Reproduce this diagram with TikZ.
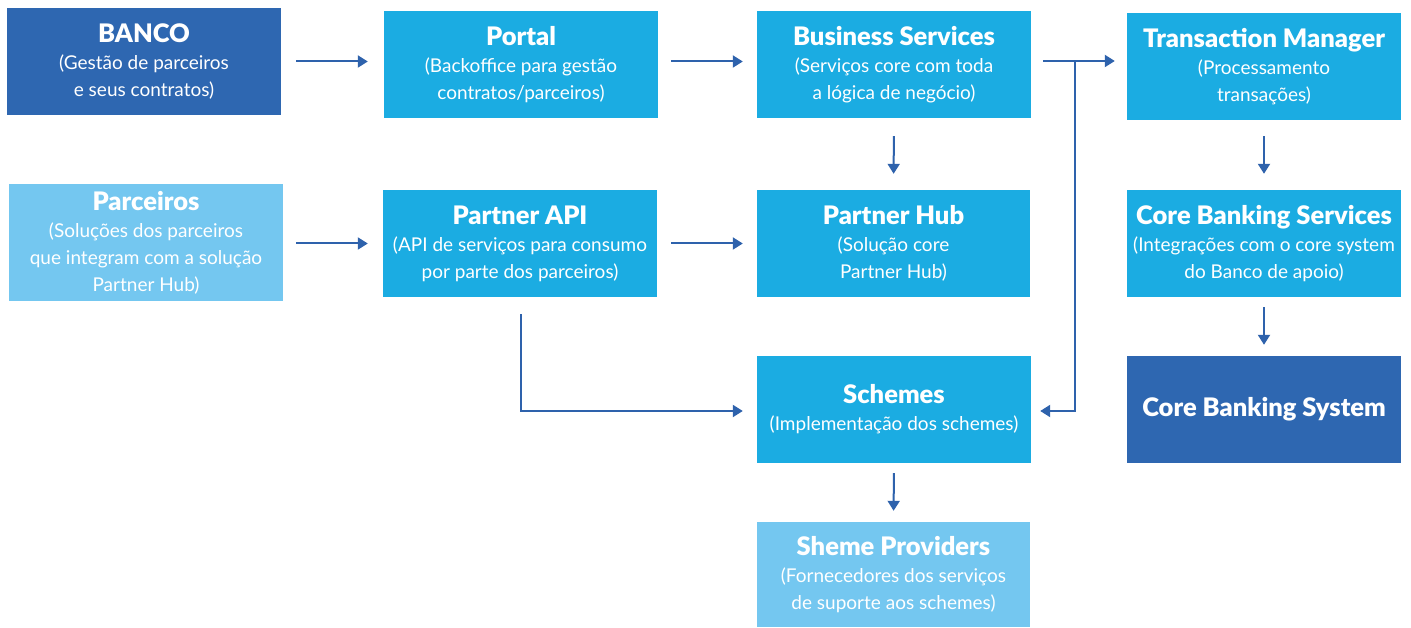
\documentclass[tikz,border=0pt]{standalone}
\usepackage{fontspec}
\setmainfont{Lato}
\newfontfamily\heavyfont{Lato Black}
\usetikzlibrary{arrows.meta}
\definecolor{darkb}{HTML}{2E67B1}
\definecolor{midb}{HTML}{1BACE2}
\definecolor{lightb}{HTML}{74C7F0}
\definecolor{arrc}{HTML}{2E62AC}
\newcommand{\ttl}[1]{{\heavyfont\fontsize{25.5}{27}\selectfont #1}}
\tikzset{
  box/.style={minimum width=274pt, minimum height=107pt, inner sep=0pt, text=white, align=center,
    font=\fontsize{19}{27}\selectfont},
  darkbox/.style={box, fill=darkb},
  midbox/.style={box, fill=midb},
  lightbox/.style={box, fill=lightb},
  arr/.style={draw=arrc, line width=2pt, -{Triangle[length=10pt,width=12pt]}},
}
\begin{document}
\begin{tikzpicture}[x=1pt,y=-1pt]
\useasboundingbox (0,0) rectangle (1411,628);
\node[darkbox] (banco) at (144,61.5) {\ttl{BANCO}\\(Gestão de parceiros\\e seus contratos)};
\node[midbox] (portal) at (521,64.5) {\ttl{Portal}\\(Backoffice para gestão\\contratos/parceiros)};
\node[midbox] (bs) at (894,64.5) {\ttl{Business Services}\\(Serviços core com toda\\a lógica de negócio)};
\node[midbox] (tm) at (1264,66.5) {\ttl{Transaction Manager}\\(Processamento\\transações)};
\node[lightbox, minimum height=117pt] (parc) at (146,242.5) {\ttl{Parceiros}\\(Soluções dos parceiros\\que integram com a solução\\Partner Hub)};
\node[midbox] (papi) at (520,243.5) {\ttl{Partner API}\\(API de serviços para consumo\\por parte dos parceiros)};
\node[midbox, minimum width=273pt] (phub) at (893.5,243.5) {\ttl{Partner Hub}\\(Solução core\\Partner Hub)};
\node[midbox] (cbs) at (1264,243.5) {\ttl{Core Banking Services}\\(Integrações com o core system\\do Banco de apoio)};
\node[midbox] (sch) at (894,409.5) {\ttl{Schemes}\\(Implementação dos schemes)};
\node[darkbox] (cbsys) at (1264,409.5) {\ttl{Core Banking System}};
\node[lightbox, minimum width=273pt, minimum height=105pt] (sp) at (893.5,574.5) {\ttl{Sheme Providers}\\(Fornecedores dos serviços\\de suporte aos schemes)};
\coordinate (split) at (1075,61);
\coordinate (bend) at (521,411);
% arrows
\draw[arr, shorten <=15pt, shorten >=16pt] (banco.east) -- (banco.east -| portal.west);
\draw[arr, shorten <=13pt, shorten >=14pt] (portal.east |- banco.east) -- (bs.west |- banco.east);
\draw[arr, shorten <=12pt, shorten >=12pt] (bs.east |- split) -- (tm.west |- split);
\draw[arr, shorten >=9pt] (split) |- (sch.east |- bend);
\draw[arr, shorten <=13pt, shorten >=15pt] (parc.east |- papi.west) -- (papi.west);
\draw[arr, shorten <=14pt, shorten >=14pt] (papi.east) -- (phub.west);
\draw[arr, shorten <=18pt, shorten >=16pt] (bs.south) -- (phub.north);
\draw[arr, shorten <=16pt, shorten >=16pt] (tm.south) -- (cbs.north);
\draw[arr, shorten <=10pt, shorten >=11pt] (cbs.south) -- (cbsys.north);
\draw[arr, shorten <=10pt, shorten >=11pt] (sch.south) -- (sp.north);
\draw[arr, shorten <=17pt, shorten >=14pt] (papi.south -| bend) |- (sch.west |- bend);
\end{tikzpicture}
\end{document}
